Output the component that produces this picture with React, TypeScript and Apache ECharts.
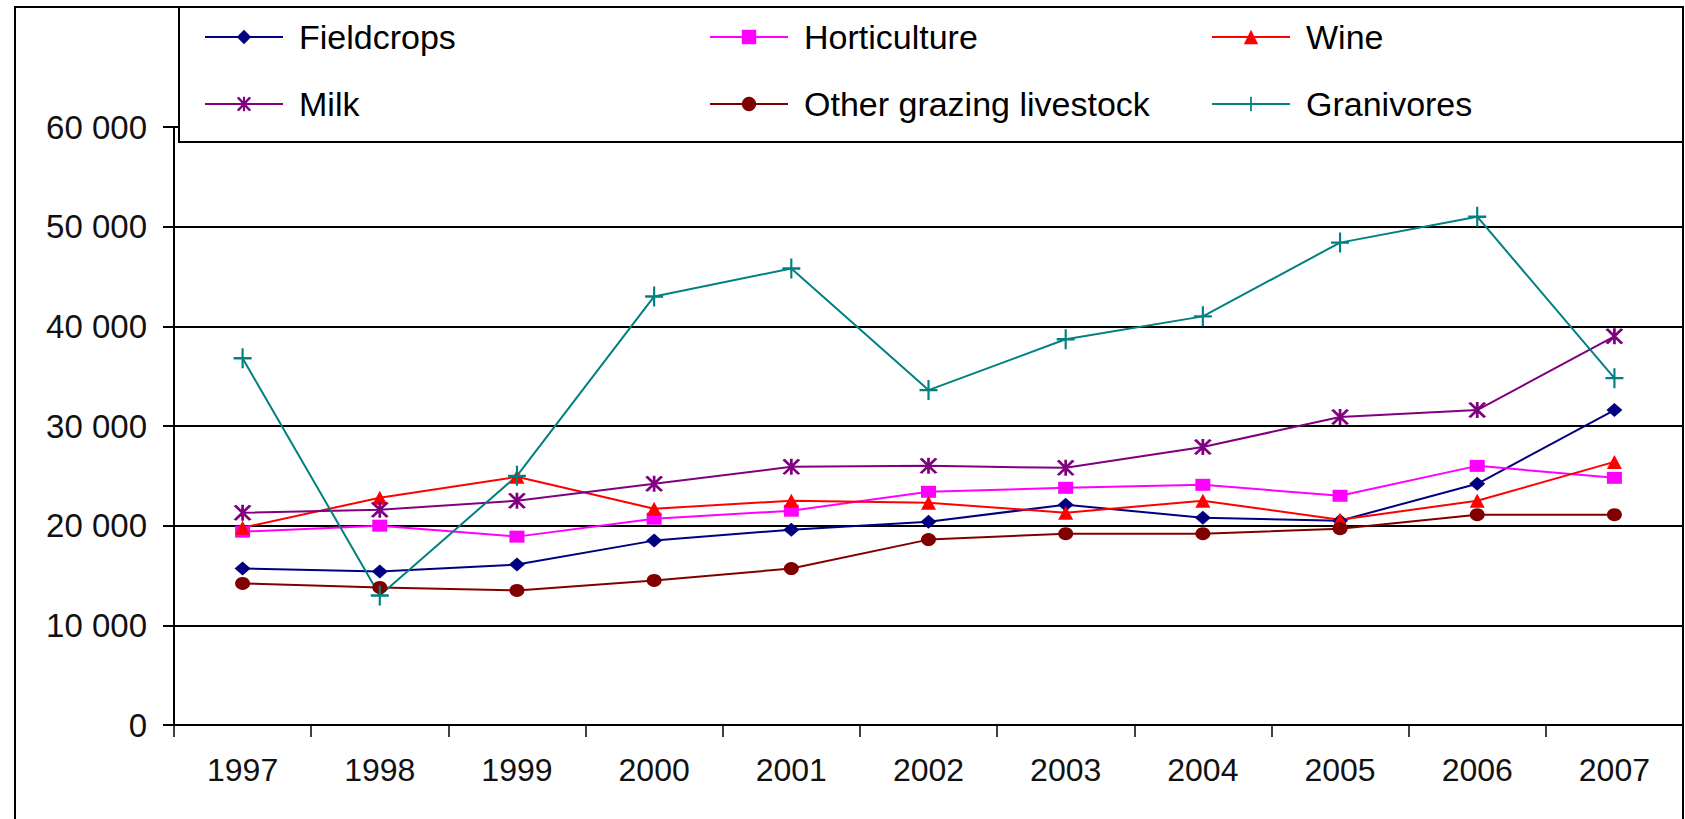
import React, { useEffect, useRef } from "react";
import * as echarts from "echarts";

const years = ["1997", "1998", "1999", "2000", "2001", "2002", "2003", "2004", "2005", "2006", "2007"];
const fieldcrops = [15700, 15400, 16100, 18500, 19600, 20400, 22100, 20800, 20500, 24200, 31600];
const horticulture = [19400, 20000, 18900, 20700, 21500, 23400, 23800, 24100, 23000, 26000, 24800];
const wine = [19800, 22800, 24900, 21700, 22500, 22300, 21300, 22500, 20600, 22500, 26400];
const milk = [21300, 21600, 22500, 24200, 25900, 26000, 25800, 27900, 30900, 31600, 39000];
const otherGrazing = [14200, 13800, 13500, 14500, 15700, 18600, 19200, 19200, 19700, 21100, 21100];
const granivores = [36800, 13000, 25000, 43000, 45800, 33600, 38700, 41000, 48400, 51000, 34800];

const PLUS = "path://M-1.2,-10L1.2,-10L1.2,10L-1.2,10Z M-10,-1.2L10,-1.2L10,1.2L-10,1.2Z";
const ASTER =
  "path://M-1.3,-10L1.3,-10L1.3,10L-1.3,10Z M-8.5,-8.5L-6,-10L8.5,8.5L6,10Z M8.5,-8.5L-6,10L-8.5,8.5L6,-10Z";

const FONT = "'Liberation Sans', Arial, sans-serif";

export default function App() {
  const ref = useRef<HTMLDivElement>(null);
  useEffect(() => {
    document.body.style.margin = "0";
    if (!ref.current) return;
    const chart = echarts.init(ref.current, null, { renderer: "svg" });
    const mk = (name: string, data: number[], color: string, symbol: string, size: number | number[]) => ({
      name,
      type: "line",
      data,
      symbol,
      symbolSize: size,
      lineStyle: { color, width: 2 },
      itemStyle: { color },
      emphasis: { disabled: true },
    });
    const legendBase = {
      orient: "vertical",
      top: 20,
      padding: 0,
      itemWidth: 78,
      itemHeight: 18,
      itemGap: 33,
      z: 20,
      selectedMode: false,
      textStyle: { fontSize: 34, fontFamily: FONT, color: "#000", lineHeight: 34, padding: [0, 0, 0, 11] },
    };
    chart.setOption({
      animation: false,
      backgroundColor: "#fff",
      graphic: [
        {
          type: "rect",
          z: 1,
          shape: { x: 15, y: 7, width: 1668, height: 840 },
          style: { fill: "none", stroke: "#000", lineWidth: 2 },
        },
        {
          type: "rect",
          z: 10,
          shape: { x: 179, y: 7, width: 1504, height: 135 },
          style: { fill: "#fff", stroke: "#000", lineWidth: 2 },
        },
      ],
      legend: [
        { ...legendBase, left: 204, data: ["Fieldcrops", "Milk"] },
        { ...legendBase, left: 709, data: ["Horticulture", "Other grazing livestock"] },
        { ...legendBase, left: 1211, data: ["Wine", "Granivores"] },
      ],
      grid: { left: 174, right: 2, top: 127, bottom: 94 },
      xAxis: {
        type: "category",
        data: years,
        boundaryGap: true,
        axisLine: { lineStyle: { color: "#000", width: 2 } },
        axisTick: { show: true, length: 12, lineStyle: { color: "#000", width: 1.5 } },
        axisLabel: { fontSize: 32, fontFamily: FONT, color: "#111", margin: 29 },
        splitLine: { show: false },
      },
      yAxis: {
        type: "value",
        min: 0,
        max: 60000,
        interval: 10000,
        axisLine: { show: true, lineStyle: { color: "#000", width: 2 } },
        axisTick: { show: true, length: 11, lineStyle: { color: "#000", width: 2 } },
        axisLabel: {
          fontSize: 33,
          fontFamily: FONT,
          color: "#111",
          margin: 27,
          formatter: (v: number) => (v === 0 ? "0" : `${v / 1000} 000`),
        },
        splitLine: { show: true, lineStyle: { color: "#000", width: 2 } },
      },
      series: [
        mk("Fieldcrops", fieldcrops, "#000080", "diamond", [16, 14]),
        mk("Horticulture", horticulture, "#ff00ff", "rect", [15, 12]),
        mk("Wine", wine, "#ff0000", "triangle", [15, 14]),
        mk("Milk", milk, "#800080", ASTER, [18, 16]),
        mk("Other grazing livestock", otherGrazing, "#800000", "circle", [15, 13]),
        mk("Granivores", granivores, "#008080", PLUS, [18, 20]),
      ],
    });
    return () => chart.dispose();
  }, []);
  return <div ref={ref} style={{ width: 1685, height: 819 }} />;
}
